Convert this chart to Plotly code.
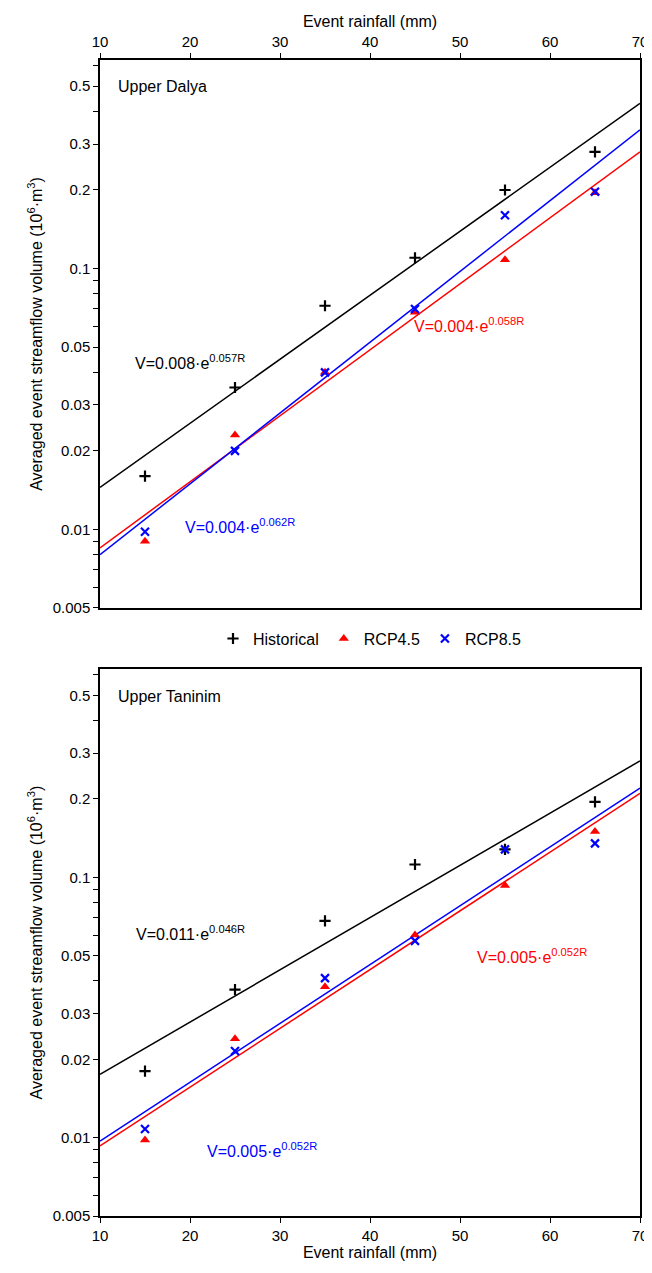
import math
import plotly.graph_objects as go

rain = [15, 25, 35, 45, 55, 65]
line_x = [10, 70]

# Upper Dalya
d_hist = [0.016, 0.035, 0.072, 0.11, 0.2, 0.28]
d_rcp45 = [0.009, 0.023, 0.04, 0.068, 0.108, 0.195]
d_rcp85 = [0.0098, 0.02, 0.04, 0.07, 0.16, 0.197]
d_fit_hist = [0.0145, 0.43]
d_fit_rcp45 = [0.0085, 0.28]
d_fit_rcp85 = [0.008, 0.34]

# Upper Taninim
t_hist = [0.018, 0.037, 0.068, 0.112, 0.128, 0.195]
t_rcp45 = [0.0098, 0.024, 0.038, 0.06, 0.093, 0.15]
t_rcp85 = [0.0108, 0.0215, 0.041, 0.057, 0.128, 0.135]
t_fit_hist = [0.0175, 0.28]
t_fit_rcp45 = [0.0093, 0.21]
t_fit_rcp85 = [0.0097, 0.22]

major = [0.005, 0.01, 0.02, 0.03, 0.05, 0.1, 0.2, 0.3, 0.5]
tickvals, ticktext = [], []
for dec in [0.001, 0.01, 0.1]:
    for m in range(1, 10):
        v = round(m * dec, 4)
        if 0.005 <= v <= 0.6:
            tickvals.append(v)
            ticktext.append(f"{v:g}" if v in major else "")

fig = go.Figure()

def add_panel(hist, r45, r85, fh, f45, f85, xa, ya, legend):
    fig.add_trace(go.Scatter(x=line_x, y=fh, mode="lines", line=dict(color="black", width=1.5),
                             xaxis=xa, yaxis=ya, showlegend=False))
    fig.add_trace(go.Scatter(x=line_x, y=f45, mode="lines", line=dict(color="red", width=1.5),
                             xaxis=xa, yaxis=ya, showlegend=False))
    fig.add_trace(go.Scatter(x=line_x, y=f85, mode="lines", line=dict(color="blue", width=1.5),
                             xaxis=xa, yaxis=ya, showlegend=False))
    fig.add_trace(go.Scatter(x=rain, y=hist, mode="markers", name="Historical",
                             marker=dict(symbol="cross-thin", size=8, line=dict(color="black", width=2.2)),
                             xaxis=xa, yaxis=ya, showlegend=legend))
    fig.add_trace(go.Scatter(x=rain, y=r45, mode="markers", name="RCP4.5",
                             marker=dict(symbol="triangle-up", size=9, color="red"),
                             xaxis=xa, yaxis=ya, showlegend=legend))
    fig.add_trace(go.Scatter(x=rain, y=r85, mode="markers", name="RCP8.5",
                             marker=dict(symbol="x-thin", size=8, line=dict(color="blue", width=2.2)),
                             xaxis=xa, yaxis=ya, showlegend=legend))

add_panel(d_hist, d_rcp45, d_rcp85, d_fit_hist, d_fit_rcp45, d_fit_rcp85, "x", "y", True)
add_panel(t_hist, t_rcp45, t_rcp85, t_fit_hist, t_fit_rcp45, t_fit_rcp85, "x2", "y2", False)

ax = dict(showline=True, linecolor="black", linewidth=1.5, mirror=True, ticks="outside",
          tickcolor="black", showgrid=False, zeroline=False, tickfont=dict(size=15, color="black"))
xax = dict(ax, range=[10, 70], dtick=10)
yax = dict(ax, type="log", range=[-2.301, -0.2007], tickvals=tickvals, ticktext=ticktext,
           title=dict(text="Averaged event streamflow volume (10<sup>6</sup>·m<sup>3</sup>)",
                      font=dict(size=16, color="black"), standoff=6))

fig.update_layout(
    width=652, height=1273,
    margin=dict(l=92, r=12, t=45, b=65),
    paper_bgcolor="white", plot_bgcolor="white",
    font=dict(family="Liberation Sans, Arial", color="black", size=16),
    xaxis=dict(xax, side="top", anchor="y",
               title=dict(text="Event rainfall (mm)", font=dict(size=16), standoff=2)),
    yaxis=dict(yax, domain=[0.526, 1], anchor="x"),
    xaxis2=dict(xax, anchor="y2",
                title=dict(text="Event rainfall (mm)", font=dict(size=16), standoff=2)),
    yaxis2=dict(yax, domain=[0, 0.473], anchor="x2"),
    legend=dict(orientation="h", x=0.5, xanchor="center", y=0.4995, yanchor="middle",
                font=dict(size=16)),
)

notes = [
    ("x", "y", 0.03, 0.97, "Upper Dalya", "black", "paper"),
    ("x", "y", 20, 0.044, "V=0.008·e<sup>0.057R</sup>", "black", "data"),
    ("x", "y", 51, 0.061, "V=0.004·e<sup>0.058R</sup>", "red", "data"),
    ("x", "y", 25.5, 0.0103, "V=0.004·e<sup>0.062R</sup>", "blue", "data"),
    ("x2", "y2", 0.03, 0.97, "Upper Taninim", "black", "paper"),
    ("x2", "y2", 20, 0.061, "V=0.011·e<sup>0.046R</sup>", "black", "data"),
    ("x2", "y2", 58, 0.050, "V=0.005·e<sup>0.052R</sup>", "red", "data"),
    ("x2", "y2", 28, 0.0090, "V=0.005·e<sup>0.052R</sup>", "blue", "data"),
]
for xa, ya, x, y, txt, col, mode in notes:
    if mode == "paper":
        fig.add_annotation(xref=f"{xa} domain", yref=f"{ya} domain", x=x, y=y, text=txt,
                           showarrow=False, xanchor="left", yanchor="top",
                           font=dict(size=16, color=col))
    else:
        fig.add_annotation(xref=xa, yref=ya, x=x, y=math.log10(y), text=txt,
                           showarrow=False, font=dict(size=16, color=col))

fig.write_html("out.html")
